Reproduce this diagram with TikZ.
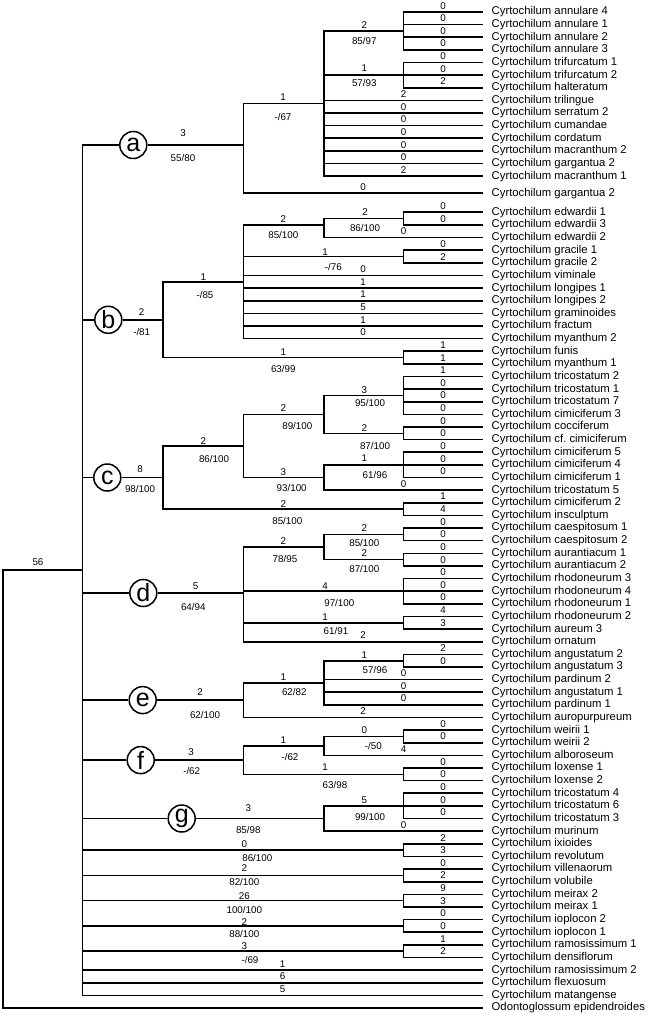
\documentclass[tikz,border=0pt]{standalone}
\usepackage{fontspec}
\setmainfont{Liberation Sans}

\begin{document}
\frenchspacing
\begin{tikzpicture}[
    x=1pt, y=-1pt,
    branch/.style={line width=1.6pt},
    leaf/.style={anchor=west, inner xsep=8.5pt, inner ysep=0pt, font=\fontsize{11.3}{13}\selectfont},
    num/.style={inner sep=1pt, font=\fontsize{9.8}{11}\selectfont},
    clade/.style={circle, draw, line width=1.5pt, fill=white, minimum size=27pt, inner sep=0pt, font=\fontsize{25}{25}\selectfont}
]
\useasboundingbox (0,0) rectangle (650,1016);

% Internal nodes
\foreach \n/\x/\y in {root/3/570.2, ingr/82.3/570.2,
    a/243.3/145, a1/324/103.6, a11/403.3/31, a12/403.3/75.2,
    b/162.7/319.8, b1/243.3/282, b11/324/225, b111/403.3/218.6, b12/403.3/256.5, b2/403.3/357.6,
    c/162.7/477.5, c1/243.3/446, c11/324/414.4, c111/403.3/395.4, c112/403.3/433.3, c12/324/477.5, c121/403.3/464.9, c2/403.3/509.1,
    d/243.3/593, d1/324/547, d11/403.3/534.4, d12/403.3/559.6, d2/403.3/591.2, d3/403.3/622.8,
    e/243.3/700.1, e1/324/682.8, e11/403.3/660.7,
    f/243.3/760.1, f1/324/745.9, f11/403.3/736.4, f2/403.3/774.3,
    g/324/818.5, g1/403.3/805.9,
    h1/403.3/850.1, h2/403.3/875.4, h3/403.3/900.6, h4/403.3/925.9, h5/403.3/951.2}
    \coordinate (\n) at (\x,\y);

% Clade circles
\node[clade] (ca) at (133.3,145) {a};
\node[clade] (cb) at (108.3,319.8) {b};
\node[clade] (cc) at (107.3,477.5) {c};
\node[clade] (cd) at (143.3,593) {d};
\node[clade] (ce) at (142.7,700.1) {e};
\node[clade] (cf) at (140.7,760.1) {f};
\node[clade] (cg) at (181.7,818.5) {g};

% Terminals
\foreach \taxon/\anc/\steps [count=\i] in {annulare 4/a11/0, annulare 1/a11/0, annulare 2/a11/0, annulare 3/a11/0,
    trifurcatum 1/a12/0, trifurcatum 2/a12/0, halteratum/a12/2,
    trilingue/a1/2, serratum 2/a1/0, cumandae/a1/0, cordatum/a1/0, macranthum 2/a1/0, gargantua 2/a1/0, macranthum 1/a1/2,
    gargantua 2/a/0,
    edwardii 1/b111/0, edwardii 3/b111/0, edwardii 2/b11/0,
    gracile 1/b12/0, gracile 2/b12/2,
    viminale/b1/0, longipes 1/b1/1, longipes 2/b1/1, graminoides/b1/5, fractum/b1/1, myanthum 2/b1/0,
    funis/b2/1, myanthum 1/b2/1,
    tricostatum 2/c111/1, tricostatum 1/c111/0, tricostatum 7/c111/0, cimiciferum 3/c111/0,
    cocciferum/c112/0, cf. cimiciferum/c112/0,
    cimiciferum 5/c121/0, cimiciferum 4/c121/0, cimiciferum 1/c121/0,
    tricostatum 5/c12/0,
    cimiciferum 2/c2/1, insculptum/c2/4,
    caespitosum 1/d11/0, caespitosum 2/d11/0,
    aurantiacum 1/d12/0, aurantiacum 2/d12/0,
    rhodoneurum 3/d2/0, rhodoneurum 4/d2/0, rhodoneurum 1/d2/0,
    rhodoneurum 2/d3/4, aureum 3/d3/3,
    ornatum/d/2,
    angustatum 2/e11/2, angustatum 3/e11/0,
    pardinum 2/e1/0, angustatum 1/e1/0, pardinum 1/e1/0,
    auropurpureum/e/2,
    weirii 1/f11/0, weirii 2/f11/0, alboroseum/f1/4,
    loxense 1/f2/0, loxense 2/f2/0,
    tricostatum 4/g1/0, tricostatum 6/g1/0, tricostatum 3/g1/0, murinum/g/0,
    ixioides/h1/2, revolutum/h1/3,
    villenaorum/h2/0, volubile/h2/2,
    meirax 2/h3/9, meirax 1/h3/3,
    ioplocon 2/h4/0, ioplocon 1/h4/0,
    ramosissimum 1/h5/1, densiflorum/h5/2,
    ramosissimum 2/ingr/1, flexuosum/ingr/6, matangense/ingr/5} {
    \pgfmathsetmacro{\yy}{\i<15 ? 12+(\i-1)*12.63 : (\i==15 ? 193.3 : 212.3+(\i-16)*12.63)}
    \node[leaf] (L\i) at (483,\yy) {Cyrtochilum \taxon};
    \draw[branch] (\anc) |- node[num, above=1pt, pos=.75] (n\i) {\steps} (L\i.west);
}
\node[leaf] (L79) at (483,1008) {Odontoglossum epidendroides};

% Branches
\draw[branch] (ingr) -- (root) |- (L79.west);
\foreach \cl/\nd in {ca/a, cb/b, cc/c, cd/d, ce/e, cf/f, cg/g}
    \draw[branch] (ingr) |- (\cl) -- (\nd);
\foreach \up/\dn in {a/a1, a1/a11, a1/a12,
    b/b1, b1/b11, b11/b111, b1/b12, b/b2,
    c/c1, c1/c11, c11/c111, c11/c112, c1/c12, c12/c121, c/c2,
    d/d1, d1/d11, d1/d12, d/d2, d/d3,
    e/e1, e1/e11,
    f/f1, f1/f11, f/f2,
    g/g1,
    ingr/h1, ingr/h2, ingr/h3, ingr/h4, ingr/h5}
    \draw[branch] (\up) |- (\dn);

% Steps and support values
\foreach \x/\y/\lab [count=\cnt] in {38/561.7/56,
    183/133.3/3, 183/157.7/{55/80},
    283/96.7/1, 283/116.7/{-/67},
    364.3/25/2, 364.3/41/{85/97},
    364.3/68.3/1, 364.3/83.3/{57/93},
    141.7/311.7/2, 141.7/331.7/{-/81},
    203.3/277.3/1, 205/295/{-/85},
    283.3/219.3/2, 283.3/235/{85/100},
    365/211.7/2, 365/227.7/{86/100},
    325/251.7/1, 333.3/266.7/{-/76},
    283.3/351.7/1, 283.3/369/{63/99},
    140/469/8, 140/489.3/{98/100},
    203.3/440.7/2, 214/459/{86/100},
    283.3/408.3/2, 297.3/425.7/{89/100},
    364.3/390/3, 370/403.3/{95/100},
    364.3/427.7/2, 375/445.7/{87/100},
    283.3/471.7/3, 291.7/487.7/{93/100},
    364.3/458.3/1, 375/475/{61/96},
    283.3/504/2, 287.3/520.7/{85/100},
    195.7/585.7/5, 193.3/607.3/{64/94},
    283.3/540.7/2, 285/559.3/{78/95},
    364.3/528.3/2, 364.3/542.7/{85/100},
    364.3/552.7/2, 364.3/569.3/{87/100},
    325/586/4, 339.3/602.7/{97/100},
    325/617.3/1, 336/631/{61/91},
    200/692.3/2, 205/715/{62/100},
    283.3/676.7/1, 294.3/691.7/{62/82},
    364.3/655/1, 375/670/{57/96},
    191/751.7/3, 191.7/770.7/{-/62},
    283.3/740/1, 290/757.3/{-/62},
    364.3/730/0, 373.3/745.7/{-/50},
    325/767.3/1, 335/785/{63/98},
    248.3/808.3/3, 248.3/830/{85/98},
    364.3/800/5, 370/816.7/{99/100},
    244.3/844.3/0, 257.3/858.3/{86/100},
    244.3/868.3/2, 244.3/882.3/{82/100},
    244.3/895.7/26, 244.3/910/{100/100},
    244.3/922.3/2, 244.3/934.3/{88/100},
    244.3/945.7/3, 250/960/{-/69}}
    \node[num] (s\cnt) at (\x,\y) {\lab};

\end{tikzpicture}
\end{document}
